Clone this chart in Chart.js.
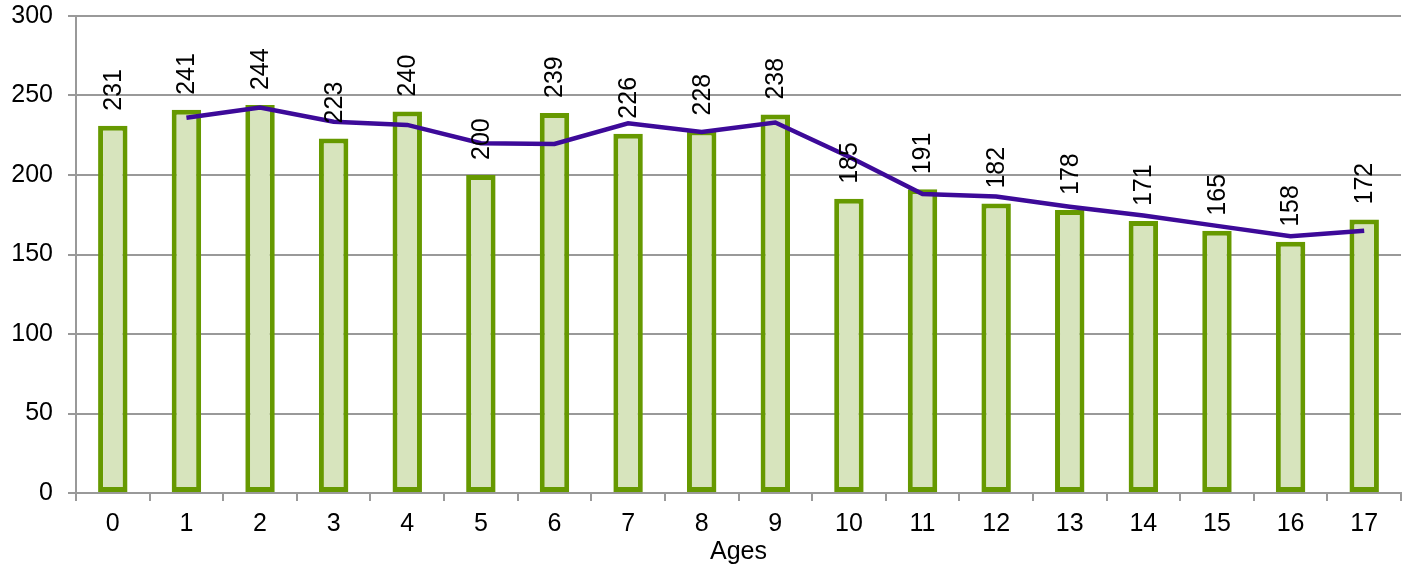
<!DOCTYPE html>
<html>
<head>
<meta charset="utf-8">
<script src="https://cdn.jsdelivr.net/npm/chart.js@4.4.1/dist/chart.umd.min.js"></script>
<style>
  html, body { margin: 0; padding: 0; background: #fff; }
  #wrap { width: 1402px; height: 567px; }
</style>
</head>
<body>
<div id="wrap"><canvas id="c" width="1402" height="567"></canvas></div>
<script>
const categories = ['0','1','2','3','4','5','6','7','8','9','10','11','12','13','14','15','16','17'];
const counts = [231, 241, 244, 223, 240, 200, 239, 226, 228, 238, 185, 191, 182, 178, 171, 165, 158, 172];
const trend = [null, 236, 242.5, 233.5, 231.5, 220, 219.5, 232.5, 227, 233, 211.5, 188, 186.5, 180, 174.5, 168, 161.5, 165];
const yTicks = [0, 50, 100, 150, 200, 250, 300];
const xTitle = 'Ages';

const FONT = '"Liberation Sans", Arial, sans-serif';

const rotatedLabels = {
  id: 'rotatedLabels',
  afterDatasetsDraw(chart) {
    const meta = chart.getDatasetMeta(1);
    const ctx = chart.ctx;
    ctx.save();
    ctx.fillStyle = '#000';
    ctx.font = '25px ' + FONT;
    ctx.textAlign = 'left';
    ctx.textBaseline = 'middle';
    meta.data.forEach((bar, i) => {
      ctx.save();
      ctx.translate(bar.x + 1, bar.y - 15);
      ctx.rotate(-Math.PI / 2);
      ctx.fillText(String(counts[i]), 0, 0);
      ctx.restore();
    });
    ctx.restore();
  }
};

new Chart(document.getElementById('c'), {
  data: {
    labels: categories,
    datasets: [
      {
        type: 'line',
        data: trend,
        borderColor: '#3d0a99',
        borderWidth: 4.5,
        pointRadius: 0,
        tension: 0,
        spanGaps: false,
        order: 0
      },
      {
        type: 'bar',
        data: counts,
        backgroundColor: '#d7e4bd',
        borderColor: '#669900',
        borderWidth: 5,
        borderSkipped: false,
        categoryPercentage: 1,
        barPercentage: 0.4,
        order: 1
      }
    ]
  },
  options: {
    responsive: false,
    animation: false,
    devicePixelRatio: 1,
    layout: { padding: { top: 16, right: 1, left: 0, bottom: 0 } },
    plugins: { legend: { display: false }, tooltip: { enabled: false } },
    scales: {
      x: {
        grid: { drawOnChartArea: false, drawTicks: true, tickLength: 8, color: '#999', offset: true, lineWidth: 2 },
        border: { color: '#999', width: 2 },
        ticks: { color: '#000', font: { family: FONT, size: 25 }, padding: 8, maxRotation: 0 },
        title: { display: true, text: xTitle, color: '#000', font: { family: FONT, size: 25 }, padding: { top: 0, bottom: 0 } },
        afterFit(s) { s.height = 74; s.paddingLeft = 0; s.paddingRight = 0; }
      },
      y: {
        min: 0, max: 300,
        afterBuildTicks(s) { s.ticks = yTicks.map(v => ({ value: v })); },
        grid: { color: '#999', lineWidth: 2, tickLength: 8, drawTicks: true },
        border: { color: '#999', width: 2 },
        ticks: { color: '#000', font: { family: FONT, size: 25 }, padding: 15 },
        afterFit(s) { s.width = 76; s.paddingTop = 0; s.paddingBottom = 0; }
      }
    }
  },
  plugins: [rotatedLabels]
});
</script>
</body>
</html>
